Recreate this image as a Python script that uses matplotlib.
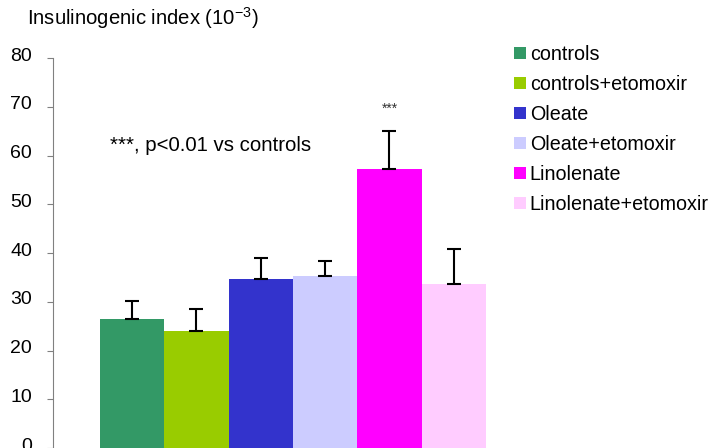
import matplotlib.pyplot as plt
import matplotlib.transforms as mtransforms
from matplotlib.patches import Patch

plt.rcParams['font.family'] = ['Liberation Sans', 'DejaVu Sans']
plt.rcParams['mathtext.fontset'] = 'custom'
plt.rcParams['mathtext.rm'] = 'Liberation Sans'

# data
groups = ['controls', 'controls+etomoxir', 'Oleate', 'Oleate+etomoxir',
          'Linolenate', 'Linolenate+etomoxir']
means = [26.5, 24.0, 34.7, 35.3, 57.3, 33.7]
errs = [3.7, 4.5, 4.3, 3.1, 7.7, 7.2]
colors = ['#339966', '#99cc00', '#3333cc', '#ccccff', '#ff00ff', '#ffccff']
yticks = [0, 10, 20, 30, 40, 50, 60, 70, 80]

fig = plt.figure(figsize=(7.12, 4.48), dpi=100)
ax = fig.add_axes([53 / 712, 0.0, 433 / 712, 0.8705])

x = list(range(len(groups)))
ax.bar(x, means, width=1.0, color=colors, edgecolor='none')
ax.errorbar(x, means, yerr=[[0] * len(errs), errs], fmt='none',
            ecolor='black', elinewidth=1.5, capsize=4.7, capthick=1.5)

ax.set_xlim(-1.23, 5.5)
ax.set_ylim(0, 80)
ax.set_yticks(yticks)
ax.set_xticks([])
for s in ['top', 'right', 'bottom']:
    ax.spines[s].set_visible(False)
ax.spines['left'].set_color('#808080')
ax.tick_params(axis='y', length=4.5, color='#808080', labelsize=14, pad=10.5)
# labels sit a little above their ticks in the original
shift = mtransforms.ScaledTranslation(0, 4 / 100, fig.dpi_scale_trans)
for lab in ax.get_yticklabels():
    lab.set_transform(lab.get_transform() + shift)

ax.text(-0.35, 62, '***, p<0.01 vs controls', fontsize=14.7, ha='left', va='center')
ax.text(4, 69.6, '***', fontsize=10, ha='center', va='center', color='#333333')

fig.text(27 / 712, 1 - 18 / 448, r'Insulinogenic index (10$^{-3}$)',
         fontsize=14.6, ha='left', va='center')

handles = [Patch(facecolor=c, edgecolor='none') for c in colors]
fig.legend(handles, groups, loc='upper left', bbox_to_anchor=(506 / 712, 1 - 37 / 448),
           frameon=False, fontsize=14.2, handlelength=0.6, handleheight=0.6,
           handletextpad=0.2, labelspacing=0.56, borderaxespad=0)

fig.savefig('out.png', dpi=100)
